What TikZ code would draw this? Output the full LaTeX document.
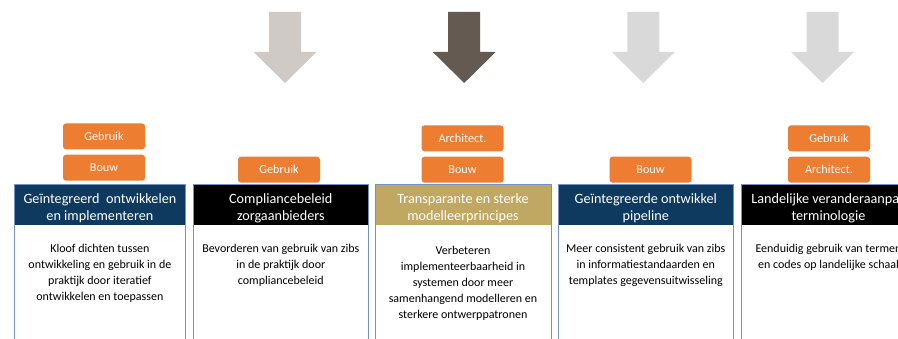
\documentclass[tikz,border=0pt]{standalone}
\usepackage{fontspec}
\setmainfont{Carlito}
\definecolor{navy}{HTML}{0E3A5F}
\definecolor{gold}{HTML}{C0A762}
\definecolor{boxline}{HTML}{7391C4}
\definecolor{orangetag}{HTML}{ED7D31}
\definecolor{arrlight}{HTML}{CFCAC5}
\definecolor{arrdark}{HTML}{645A52}
\definecolor{arrgray}{HTML}{D9D9D9}
\begin{document}
\begin{tikzpicture}[x=1pt,y=-1pt,
  colframe/.style={draw=boxline, line width=1pt},
  hdrtext/.style={text=white, font=\fontsize{14.2}{17}\selectfont, align=center, inner sep=0pt},
  tag/.style={fill=orangetag, rounded corners=3pt, minimum width=82pt, minimum height=26pt, text=white, font=\fontsize{12.2}{14}\selectfont, inner sep=0pt},
  bodytext/.style={font=\fontsize{12}{16}\selectfont, align=center, anchor=north, inner sep=0pt}]
\useasboundingbox (0,0) rectangle (898,339);
\clip (0,0) rectangle (898,339);
% arrows
\foreach \cx/\cc in {285/arrlight,464.2/arrdark,643.3/arrgray,822.5/arrgray}{
  \fill[\cc] (\cx-16,12) -- (\cx+16,12) -- (\cx+16,52) -- (\cx+31.5,52) -- (\cx,83) -- (\cx-31.5,52) -- (\cx-16,52) -- cycle;
}
% column 1
\fill[navy] (14,185) rectangle (185.7,225.5);
\draw[colframe] (14,185) rectangle (185.7,350);
\node[hdrtext] (h1) at (99.9,208.5) {Geïntegreerd\ \ ontwikkelen\\en implementeren};
\node[bodytext] (b1) at (99.9,244) {Kloof dichten tussen\\ontwikkeling en gebruik in de\\praktijk door iteratief\\ontwikkelen en toepassen};
\node[tag] (t1a) at (104,136.3) {Gebruik};
\node[tag] (t1b) at (104,167.7) {Bouw};
% column 2
\fill[black] (193.3,185) rectangle (368.3,225.5);
\draw[colframe] (193.3,185) rectangle (368.3,350);
\node[hdrtext] (h2) at (280.8,208.5) {Compliancebeleid\\zorgaanbieders};
\node[bodytext] (b2) at (280.8,244) {Bevorderen van gebruik van zibs\\in de praktijk door\\compliancebeleid};
\node[tag] (t2a) at (279,169.7) {Gebruik};
% column 3
\fill[gold] (375,185) rectangle (551,225.5);
\draw[colframe] (375,185) rectangle (551,350);
\node[hdrtext] (h3) at (463,208.5) {Transparante en sterke\\modelleerprincipes};
\node[bodytext] (b3) at (463,245.5) {Verbeteren\\implementeerbaarheid in\\systemen door meer\\samenhangend modelleren en\\sterkere ontwerppatronen};
\node[tag] (t3a) at (462.5,138.3) {Architect.};
\node[tag] (t3b) at (462.5,169.7) {Bouw};
% column 4
\fill[navy] (558.3,185) rectangle (733.3,225.5);
\draw[colframe] (558.3,185) rectangle (733.3,350);
\node[hdrtext] (h4) at (645.8,208.5) {Geïntegreerde ontwikkel\\pipeline};
\node[bodytext] (b4) at (645.8,244) {Meer consistent gebruik van zibs\\in informatiestandaarden en\\templates gegevensuitwisseling};
\node[tag] (t4a) at (650.5,169.7) {Bouw};
% column 5
\fill[black] (741,185) rectangle (916,225.5);
\draw[colframe] (741,185) rectangle (916,350);
\node[hdrtext] (h5) at (828.5,208.5) {Landelijke veranderaanpak\\terminologie};
\node[bodytext] (b5) at (828.5,244) {Eenduidig gebruik van termen\\en codes op landelijke schaal};
\node[tag] (t5a) at (829,138.3) {Gebruik};
\node[tag] (t5b) at (829,169.7) {Architect.};
\end{tikzpicture}
\end{document}
